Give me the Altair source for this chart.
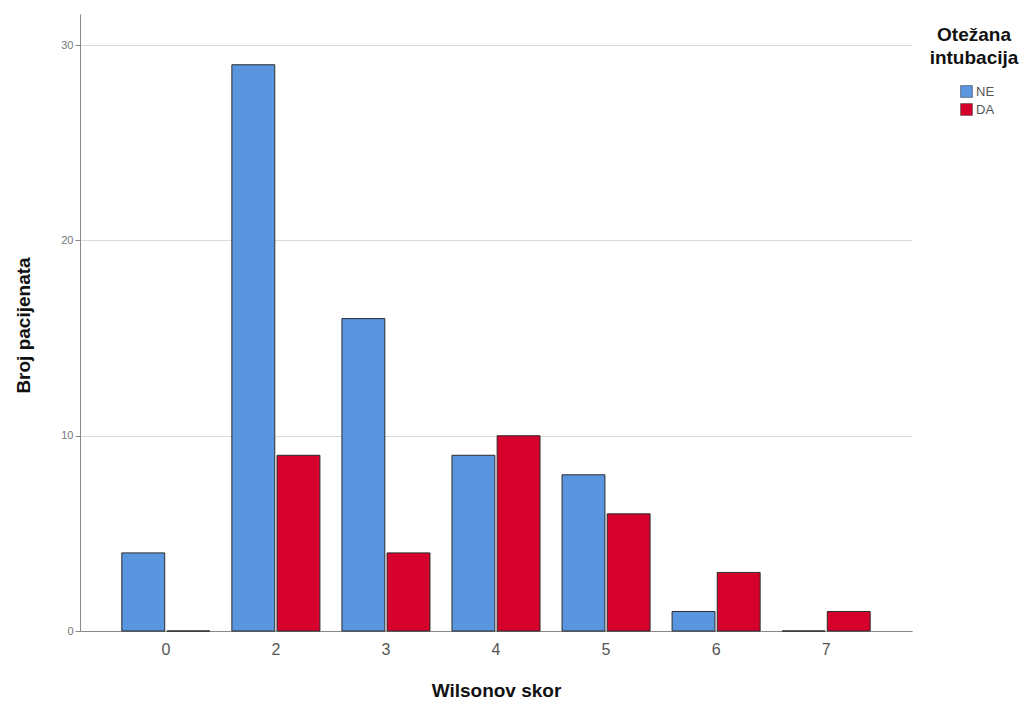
import altair as alt
import pandas as pd

categories = ["0", "2", "3", "4", "5", "6", "7"]
ne_values = [4, 29, 16, 9, 8, 1, 0]
da_values = [0, 9, 4, 10, 6, 3, 1]
groups = ["NE", "DA"]

rows = []
for c, v in zip(categories, ne_values):
    rows.append({"skor": c, "grupa": "NE", "broj": v})
for c, v in zip(categories, da_values):
    rows.append({"skor": c, "grupa": "DA", "broj": v})
df = pd.DataFrame(rows)

chart = alt.Chart(df).mark_bar(stroke="#2b2b2b", strokeWidth=1).encode(
    x=alt.X("skor:N", sort=categories,
            scale=alt.Scale(paddingInner=0.2, paddingOuter=0.38),
            axis=alt.Axis(title="Wilsonov skor", labelAngle=0, labelFontSize=16,
                          labelColor="#555555", labelFont="Liberation Sans",
                          labelPadding=10, ticks=False, domainColor="#888888",
                          titleFontSize=19, titleFont="Liberation Sans",
                          titleFontWeight="bold", titleColor="#111111",
                          titleY=59, titleBaseline="middle")),
    xOffset=alt.XOffset("grupa:N", sort=groups,
                        scale=alt.Scale(paddingInner=0.05)),
    y=alt.Y("broj:Q", scale=alt.Scale(domain=[0, 31.6], nice=False),
            axis=alt.Axis(title="Broj pacijenata", values=[0, 10, 20, 30],
                          labelFontSize=11, labelColor="#777777",
                          labelFont="Liberation Sans", tickSize=5,
                          tickColor="#888888", domainColor="#888888",
                          gridColor="#d9d9d9", grid=True,
                          titleFontSize=19, titleFont="Liberation Sans",
                          titleFontWeight="bold", titleColor="#111111",
                          titleX=-57, titleY=311, titleAngle=270,
                          titleAlign="center", titleBaseline="middle")),
    color=alt.Color("grupa:N", sort=groups,
                    scale=alt.Scale(domain=groups, range=["#5A96E0", "#D6002C"]),
                    legend=alt.Legend(title=["Otežana", "intubacija"],
                                      orient="none", legendX=850, legendY=12,
                                      titleFontSize=19, titleFont="Liberation Sans",
                                      titleFontWeight="bold", titleColor="#111111",
                                      titleAlign="center", titleAnchor="middle",
                                      titleLineHeight=23, titlePadding=17,
                                      labelFontSize=13, labelColor="#555555",
                                      labelFont="Liberation Sans",
                                      symbolType="square", symbolSize=140,
                                      symbolOffset=6,
                                      symbolStrokeColor="#2b2b2b", symbolStrokeWidth=0.5,
                                      rowPadding=3, labelOffset=3,
                                      padding=0, offset=0))
).properties(
    width=832, height=617,
    padding={"left": 72, "top": 6, "right": 114, "bottom": 72},
    autosize=alt.AutoSizeParams(type="none")
).configure_view(stroke=None).configure_axis(gridWidth=1)

chart.save("out.html", embed_options={"renderer": "svg", "actions": False})
